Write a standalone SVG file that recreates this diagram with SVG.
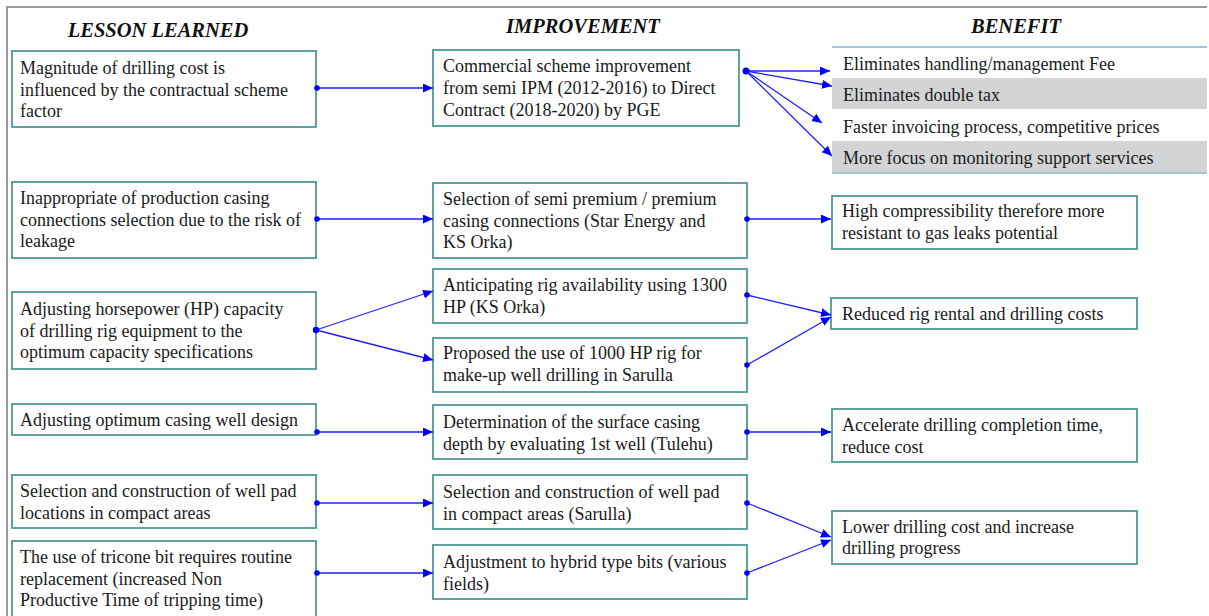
<svg xmlns="http://www.w3.org/2000/svg" width="1209" height="616" viewBox="0 0 1209 616">
<defs>
<marker id="ah" markerUnits="userSpaceOnUse" markerWidth="12" markerHeight="10" refX="10" refY="4.5" orient="auto">
<path d="M0,0 L10,4.5 L0,9 Z" fill="#0000ff"/>
</marker>
<style>
.box{fill:#fff;stroke:#4f9896;stroke-width:1.8}
.t{font-family:"Liberation Serif","Times New Roman",serif;font-size:18px;fill:#1a1a1a}
.h{font-family:"Liberation Serif","Times New Roman",serif;font-size:20.5px;font-weight:bold;font-style:italic;fill:#111;text-anchor:middle}
.c{stroke:#1f1fff;stroke-width:1.3;fill:none;marker-end:url(#ah)}
.d{fill:#0000ff}
.g{fill:#d2d4d5}
.bl{stroke:#9fcbd8;stroke-width:2}
</style>
</defs>
<rect width="1209" height="616" fill="#fff"/>
<path d="M7,616 L7,7 L1207,7" fill="none" stroke="#9a9a9a" stroke-width="2"/>

<g id="headers">
<text class="h" x="158" y="37">LESSON LEARNED</text>
<text class="h" x="583" y="33">IMPROVEMENT</text>
<text class="h" x="1016" y="33">BENEFIT</text>
</g>

<g id="L1"><rect class="box" x="12" y="51" width="304" height="76"/>
<text class="t"><tspan x="20" y="74">Magnitude of drilling cost is</tspan><tspan x="20" y="95.5">influenced by the contractual scheme</tspan><tspan x="20" y="117">factor</tspan></text></g>
<g id="L2"><rect class="box" x="12" y="182" width="304" height="76"/>
<text class="t"><tspan x="20" y="204">Inappropriate of production casing</tspan><tspan x="20" y="225.5">connections selection due to the risk of</tspan><tspan x="20" y="247">leakage</tspan></text></g>
<g id="L3"><rect class="box" x="12" y="292" width="304" height="77"/>
<text class="t"><tspan x="20" y="315">Adjusting horsepower (HP) capacity</tspan><tspan x="20" y="336.5">of drilling rig equipment to the</tspan><tspan x="20" y="358">optimum capacity specifications</tspan></text></g>
<g id="L4"><rect class="box" x="12" y="404" width="304" height="31"/>
<text class="t"><tspan x="20" y="426">Adjusting optimum casing well design</tspan></text></g>
<g id="L5"><rect class="box" x="12" y="475" width="304" height="53"/>
<text class="t"><tspan x="20" y="497">Selection and construction of well pad</tspan><tspan x="20" y="519">locations in compact areas</tspan></text></g>
<g id="L6"><rect class="box" x="12" y="541" width="304" height="80"/>
<text class="t"><tspan x="20" y="563">The use of tricone bit requires routine</tspan><tspan x="20" y="584.5">replacement (increased Non</tspan><tspan x="20" y="606">Productive Time of tripping time)</tspan></text></g>

<g id="M1"><rect class="box" x="433" y="50" width="306" height="76"/>
<text class="t"><tspan x="443" y="72">Commercial scheme improvement</tspan><tspan x="443" y="94">from semi IPM (2012-2016) to Direct</tspan><tspan x="443" y="116">Contract (2018-2020) by PGE</tspan></text></g>
<g id="M2"><rect class="box" x="433" y="183" width="314" height="75"/>
<text class="t"><tspan x="443" y="205">Selection of semi premium / premium</tspan><tspan x="443" y="226.5">casing connections (Star Energy and</tspan><tspan x="443" y="248">KS Orka)</tspan></text></g>
<g id="M3"><rect class="box" x="433" y="269" width="314" height="54"/>
<text class="t"><tspan x="443" y="291">Anticipating rig availability using 1300</tspan><tspan x="443" y="312.5">HP (KS Orka)</tspan></text></g>
<g id="M4"><rect class="box" x="433" y="338" width="314" height="54"/>
<text class="t"><tspan x="443" y="359">Proposed the use of 1000 HP rig for</tspan><tspan x="443" y="381">make-up well drilling in Sarulla</tspan></text></g>
<g id="M5"><rect class="box" x="433" y="405" width="314" height="54"/>
<text class="t"><tspan x="443" y="428">Determination of the surface casing</tspan><tspan x="443" y="449.5">depth by evaluating 1st well (Tulehu)</tspan></text></g>
<g id="M6"><rect class="box" x="433" y="475" width="314" height="54"/>
<text class="t"><tspan x="443" y="498">Selection and construction of well pad</tspan><tspan x="443" y="519.5">in compact areas (Sarulla)</tspan></text></g>
<g id="M7"><rect class="box" x="433" y="545" width="314" height="54"/>
<text class="t"><tspan x="443" y="568">Adjustment to hybrid type bits (various</tspan><tspan x="443" y="589.5">fields)</tspan></text></g>

<g id="B1">
<rect class="g" x="832" y="78" width="375" height="31"/>
<rect class="g" x="832" y="141" width="375" height="32"/>
<line class="bl" x1="832" y1="47" x2="1207" y2="47"/>
<line class="bl" x1="832" y1="173" x2="1207" y2="173"/>
<text class="t" x="843" y="70">Eliminates handling/management Fee</text>
<text class="t" x="843" y="101">Eliminates double tax</text>
<text class="t" x="843" y="133">Faster invoicing process, competitive prices</text>
<text class="t" x="843" y="164">More focus on monitoring support services</text>
</g>
<g id="B2"><rect class="box" x="832" y="196" width="305" height="53"/>
<text class="t"><tspan x="842" y="217">High compressibility therefore more</tspan><tspan x="842" y="239">resistant to gas leaks potential</tspan></text></g>
<g id="B3"><rect class="box" x="831" y="298" width="306" height="31"/>
<text class="t" x="842" y="320">Reduced rig rental and drilling costs</text></g>
<g id="B4"><rect class="box" x="832" y="409" width="305" height="53"/>
<text class="t"><tspan x="842" y="431">Accelerate drilling completion time,</tspan><tspan x="842" y="452.5">reduce cost</tspan></text></g>
<g id="B5"><rect class="box" x="832" y="511" width="305" height="53"/>
<text class="t"><tspan x="842" y="533">Lower drilling cost and increase</tspan><tspan x="842" y="554">drilling progress</tspan></text></g>

<g id="connectors">
<path class="c" d="M317,88 L433,88"/>
<path class="c" d="M746,71 L830,71"/>
<path class="c" d="M746,71 L832,86"/>
<path class="c" d="M746,71 L822,123"/>
<path class="c" d="M746,71 L832,156"/>
<path class="c" d="M317,219 L433,219"/>
<path class="c" d="M747,219 L831,219"/>
<path class="c" d="M316,330 L433,291"/>
<path class="c" d="M316,330 L433,360"/>
<path class="c" d="M747,295 L831,315"/>
<path class="c" d="M747,365 L831,317"/>
<path class="c" d="M317,432 L433,432"/>
<path class="c" d="M747,432 L831,432"/>
<path class="c" d="M317,503 L433,503"/>
<path class="c" d="M317,573 L433,573"/>
<path class="c" d="M747,503 L831,537"/>
<path class="c" d="M747,573 L831,540"/>
<circle class="d" cx="317" cy="88" r="2.8"/>
<circle class="d" cx="746" cy="71" r="3.5"/>
<circle class="d" cx="317" cy="219" r="2.8"/>
<circle class="d" cx="747" cy="219" r="2.8"/>
<circle class="d" cx="316" cy="330" r="3.2"/>
<circle class="d" cx="747" cy="295" r="2.8"/>
<circle class="d" cx="747" cy="365" r="2.8"/>
<circle class="d" cx="317" cy="432" r="2.8"/>
<circle class="d" cx="747" cy="432" r="2.8"/>
<circle class="d" cx="317" cy="503" r="2.8"/>
<circle class="d" cx="317" cy="573" r="2.8"/>
<circle class="d" cx="747" cy="503" r="2.8"/>
<circle class="d" cx="747" cy="573" r="2.8"/>
</g>
</svg>
